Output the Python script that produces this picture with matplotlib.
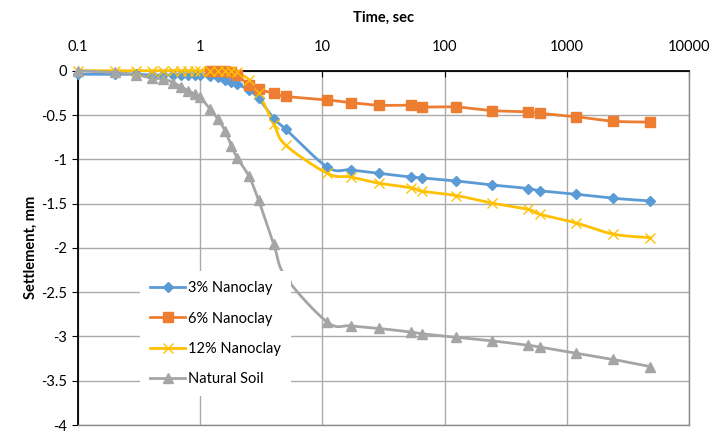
import numpy as np
import matplotlib
matplotlib.use("Agg")
import matplotlib.pyplot as plt

plt.rcParams['font.family'] = ['Lato', 'DejaVu Sans']

# time readings (sec)
times = [0.1, 0.2, 0.3, 0.4, 0.5, 0.6, 0.7, 0.8, 0.9, 1.0, 1.2, 1.4, 1.6, 1.8, 2.0,
         2.5, 3, 4, 5, 11, 17, 29, 53, 65, 125, 245, 485, 600, 1200, 2400, 4800]
times_6 = times[10:]

# settlement (mm)
nano3 = [-0.04, -0.04, -0.04, -0.05, -0.05, -0.05, -0.05, -0.05, -0.05, -0.05, -0.06, -0.07,
         -0.10, -0.13, -0.15, -0.22, -0.31, -0.54, -0.66, -1.09, -1.12, -1.16, -1.20, -1.21,
         -1.245, -1.29, -1.33, -1.355, -1.395, -1.44, -1.47]
nano6 = [0, 0, 0, -0.01, -0.05, -0.16, -0.21, -0.255, -0.29, -0.33, -0.36, -0.39, -0.39,
         -0.41, -0.41, -0.45, -0.465, -0.48, -0.52, -0.57, -0.58]
nano12 = [0, 0, 0, 0, 0, 0, 0, 0, 0, 0, 0, 0, 0, 0, -0.02, -0.10, -0.25, -0.60, -0.84,
          -1.16, -1.20, -1.27, -1.32, -1.36, -1.41, -1.495, -1.565, -1.62, -1.72, -1.845, -1.885]
natural = [0, -0.02, -0.045, -0.085, -0.09, -0.135, -0.18, -0.23, -0.26, -0.30, -0.43, -0.55,
           -0.68, -0.85, -0.98, -1.19, -1.46, -1.96, -2.33, -2.84, -2.88, -2.91, -2.95, -2.97,
           -3.01, -3.05, -3.10, -3.12, -3.19, -3.26, -3.34]

labels = ['3% Nanoclay', '6% Nanoclay', '12% Nanoclay', 'Natural Soil']
colors = ['#5b9bd5', '#ed7d31', '#ffc000', '#a5a5a5']
markers = ['D', 's', 'x', '^']
msizes = [4.8, 7.2, 6.5, 6.8]


def smooth(t, y, n=24):
    # excel-style smoothed line, done roughly in screen space
    u = np.log10(np.asarray(t, float)) * 122.3
    v = np.asarray(y, float) * 88.6
    p = np.column_stack([u, v])
    m = len(p)
    s = np.linspace(0, 1, n)[:, None]
    out = []
    for i in range(m - 1):
        p0, p1, p2, p3 = p[max(i - 1, 0)], p[i], p[i + 1], p[min(i + 2, m - 1)]
        c1 = p1 + (p2 - p0) / 6
        c2 = p2 - (p3 - p1) / 6
        seg = ((1 - s) ** 3) * p1 + 3 * ((1 - s) ** 2) * s * c1 + 3 * (1 - s) * s ** 2 * c2 + s ** 3 * p2
        out.append(seg if i == 0 else seg[1:])
    out = np.vstack(out)
    return 10 ** (out[:, 0] / 122.3), out[:, 1] / 88.6


fig = plt.figure(figsize=(7.1, 4.32), dpi=100)
ax = fig.add_axes([0.1099, 0.0162, 0.8605, 0.8201])

series = [(times, nano3), (times_6, nano6), (times, nano12), (times, natural)]
for (t, y), lab, c, mk, ms in zip(series, labels, colors, markers, msizes):
    xs, ys = smooth(t, y)
    ax.plot(xs, ys, color=c, lw=2.0, zorder=3, clip_on=False)
    ax.plot(t, y, ls='none', marker=mk, color=c, ms=ms, mew=1.0, zorder=4, clip_on=False)
    ax.plot([], [], color=c, lw=2.0, marker=mk, ms=ms, label=lab)

ax.set_xscale('log')
ax.set_xlim(0.1, 10000)
ax.set_ylim(-4, 0)
ax.xaxis.tick_top()
ax.xaxis.set_label_position('top')
ax.set_xticks([0.1, 1, 10, 100, 1000, 10000])
ax.set_xticklabels(['0.1', '1', '10', '100', '1000', '10000'])
ax.minorticks_off()
yt = [0, -0.5, -1, -1.5, -2, -2.5, -3, -3.5, -4]
ax.set_yticks(yt)
ax.set_yticklabels(['0', '-0.5', '-1', '-1.5', '-2', '-2.5', '-3', '-3.5', '-4'])
ax.tick_params(axis='x', direction='in', length=4, labelsize=10.5, pad=12, colors='black')
ax.tick_params(axis='y', direction='out', length=4, labelsize=10.5, pad=4)

ax.grid(True, color='#ababab', lw=1.0)
ax.set_axisbelow(True)
for side in ['top', 'left']:
    ax.spines[side].set_color('black')
    ax.spines[side].set_linewidth(1.3)
for side in ['right', 'bottom']:
    ax.spines[side].set_color('#8c8c8c')
    ax.spines[side].set_linewidth(1.0)

ax.set_xlabel('Time, sec', fontsize=10.5, fontweight='bold', labelpad=13)
ax.set_ylabel('Settlement, mm', fontsize=10.5, fontweight='bold', labelpad=2)

leg = ax.legend(loc='upper left', bbox_to_anchor=(140 / 710, 1 - 271 / 432),
                bbox_transform=fig.transFigure, fontsize=10.5, numpoints=1,
                handlelength=2.4, handletextpad=0.2, labelspacing=1.12,
                frameon=True, fancybox=False, framealpha=1, borderpad=0.7,
                borderaxespad=0)
leg.get_frame().set_edgecolor('none')
leg.get_frame().set_facecolor('white')
leg.set_zorder(10)

fig.savefig('out.png', dpi=100)
